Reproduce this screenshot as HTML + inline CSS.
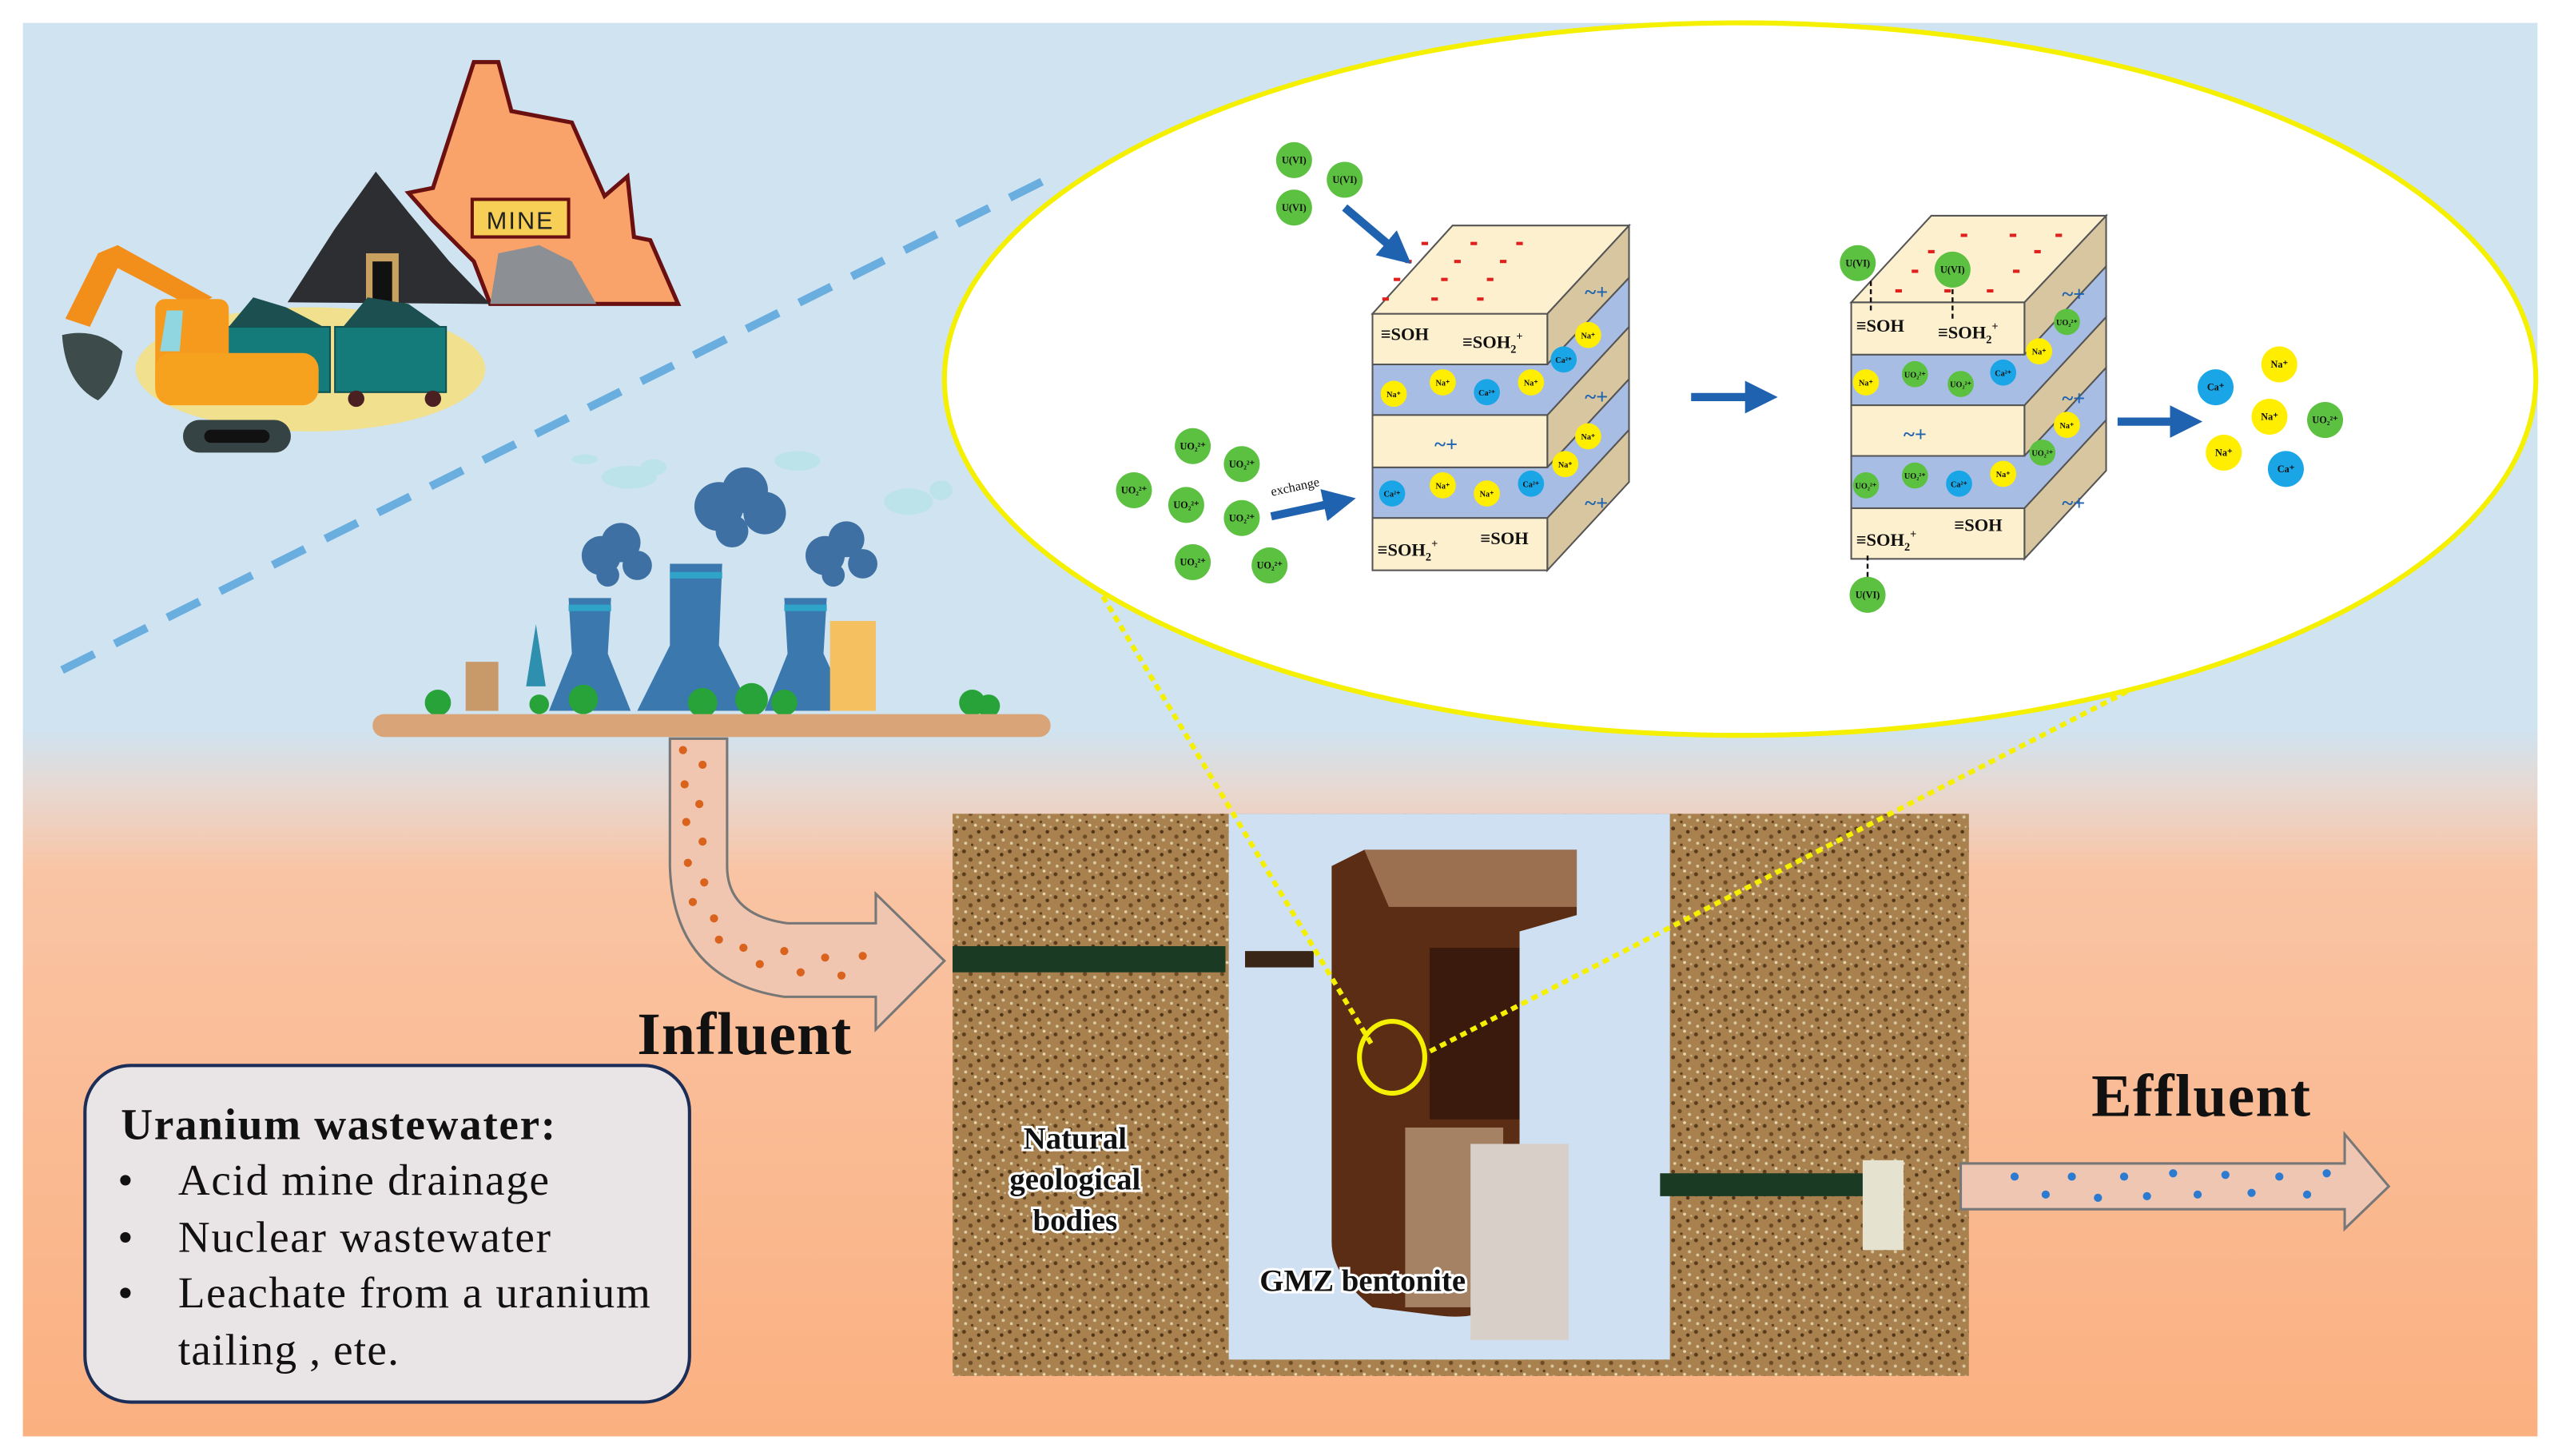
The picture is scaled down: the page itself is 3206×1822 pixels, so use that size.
<!DOCTYPE html>
<html><head><meta charset="utf-8"><style>
html,body{margin:0;padding:0;background:#fff}
svg{display:block}
text{font-family:"Liberation Serif",serif}
.s{font-family:"Liberation Sans",sans-serif;font-weight:bold}
</style></head><body>
<svg width="3206" height="1822" viewBox="0 0 1568 891" preserveAspectRatio="none" xmlns="http://www.w3.org/2000/svg">
<defs>
<linearGradient id="bg" x1="0" y1="0" x2="0" y2="1">
<stop offset="0" stop-color="#cfe3f0"/><stop offset="0.50" stop-color="#cfe3f0"/>
<stop offset="0.54" stop-color="#e6d9d3"/><stop offset="0.60" stop-color="#f9c4a4"/>
<stop offset="1" stop-color="#fbb080"/></linearGradient>
<pattern id="spk" width="14" height="14" patternUnits="userSpaceOnUse">
<rect width="14" height="14" fill="#a8814f"/>
<circle cx="2" cy="3" r="1.2" fill="#5a3c1c"/><circle cx="9" cy="1" r="0.9" fill="#e8d8b0"/>
<circle cx="6" cy="8" r="1.3" fill="#6b4a24"/><circle cx="12" cy="10" r="1" fill="#d8c8a0"/>
<circle cx="3" cy="12" r="0.9" fill="#e0d0a8"/><circle cx="11" cy="5" r="1.1" fill="#4e3418"/>
<circle cx="7" cy="13" r="0.8" fill="#5a3c1c"/><circle cx="13" cy="2" r="0.7" fill="#c8b088"/>
</pattern>
<marker id="ah" markerWidth="4" markerHeight="4" refX="2" refY="2" orient="auto"><path d="M0,0L4,2L0,4z" fill="#1f62b0"/></marker>
</defs>
<rect x="14" y="14" width="1539" height="865" fill="url(#bg)"/>

<line x1="38" y1="410" x2="640" y2="110" stroke="#6aaee0" stroke-width="5" stroke-dasharray="22,14"/>

<!-- mine -->
<ellipse cx="190" cy="226" rx="107" ry="38" fill="#f1e08e"/>
<polygon points="290,38 305,38 313,68 350,75 370,120 384,108 388,145 398,147 415,186 300,186 290,160 265,135 250,118 265,115" fill="#f9a26a" stroke="#6b1010" stroke-width="2.5"/>
<polygon points="300,186 305,155 330,150 350,160 365,186" fill="#8c9095"/>
<polygon points="176,185 205,140 230,105 250,130 275,160 300,186" fill="#2d2e31"/>
<rect x="224" y="155" width="20" height="30" fill="#c8a060"/><rect x="228" y="160" width="12" height="25" fill="#111"/>
<rect x="289" y="122" width="59" height="23" fill="#f7cf56" stroke="#6b1010" stroke-width="2"/>
<text x="318.5" y="140" font-size="15" text-anchor="middle" class="s" style="font-weight:normal;letter-spacing:1px" fill="#222">MINE</text>
<rect x="136" y="200" width="66" height="40" fill="#157a7a" stroke="#0f5050"/>
<rect x="205" y="200" width="68" height="40" fill="#157a7a" stroke="#0f5050"/>
<path d="M140,200 L155,182 L175,188 L198,200z M210,200 L225,182 L250,186 L270,200z" fill="#1c4f50"/>
<circle cx="218" cy="244" r="5" fill="#4a2020"/><circle cx="265" cy="244" r="5" fill="#4a2020"/>
<path d="M40,195 L60,155 L72,150 L130,182 L118,188 L72,164 L55,200z" fill="#f28e1a"/>
<path d="M38,205 Q40,235 60,245 Q72,235 75,215 Q60,200 38,205z" fill="#3d4b4b"/>
<rect x="95" y="183" width="45" height="60" rx="6" fill="#f59a1c"/>
<rect x="95" y="216" width="100" height="32" rx="10" fill="#f7a21f"/>
<polygon points="102,190 112,190 110,215 98,215" fill="#8fd6e0"/>
<rect x="112" y="257" width="66" height="20" rx="10" fill="#364344"/><rect x="125" y="263" width="40" height="8" rx="4" fill="#111"/>

<!-- factory -->
<ellipse cx="385" cy="292" rx="17" ry="7" fill="#bde3ea"/><ellipse cx="400" cy="286" rx="8" ry="5" fill="#bde3ea"/>
<ellipse cx="358" cy="281" rx="8" ry="3" fill="#bde3ea"/><ellipse cx="488" cy="282" rx="14" ry="6" fill="#bde3ea"/>
<ellipse cx="556" cy="307" rx="15" ry="8" fill="#bde3ea"/><ellipse cx="576" cy="300" rx="7" ry="6" fill="#bde3ea"/>
<g fill="#3f70a3">
<circle cx="368" cy="340" r="12"/><circle cx="380" cy="332" r="12"/><circle cx="390" cy="346" r="9"/><circle cx="372" cy="352" r="7"/>
<circle cx="440" cy="310" r="15"/><circle cx="456" cy="300" r="14"/><circle cx="468" cy="314" r="13"/><circle cx="448" cy="325" r="10"/>
<circle cx="505" cy="340" r="12"/><circle cx="518" cy="330" r="11"/><circle cx="528" cy="345" r="9"/><circle cx="510" cy="352" r="7"/>
</g>
<polygon points="348,366 374,366 372,400 386,435 336,435 350,400" fill="#3a78ae"/>
<polygon points="410,345 442,345 440,395 460,435 390,435 410,395" fill="#3a78ae"/>
<polygon points="480,366 506,366 504,400 520,435 468,435 482,400" fill="#3a78ae"/>
<rect x="348" y="370" width="26" height="4" fill="#30a3c8"/><rect x="410" y="350" width="32" height="4" fill="#30a3c8"/><rect x="480" y="370" width="26" height="4" fill="#30a3c8"/>
<rect x="285" y="405" width="20" height="30" fill="#c89a6a"/><rect x="508" y="380" width="28" height="55" fill="#f5c060"/>
<polygon points="328,382 322,420 334,420" fill="#2f8fae"/>
<g fill="#27a33a"><circle cx="268" cy="430" r="8"/><circle cx="357" cy="428" r="9"/><circle cx="430" cy="430" r="9"/><circle cx="460" cy="428" r="10"/><circle cx="595" cy="430" r="8"/><circle cx="605" cy="432" r="7"/><circle cx="480" cy="430" r="8"/><circle cx="330" cy="431" r="6"/></g>
<rect x="228" y="437" width="415" height="14" rx="7" fill="#d9a477"/>

<!-- pipe -->
<path d="M410,452 L410,530 Q412,600 480,610 L536,610 L536,630 L578,588 L536,547 L536,565 L482,565 Q445,560 445,530 L445,452z" fill="#f0c6b0" stroke="#777" stroke-width="1.5"/>
<g fill="#d9621c">
<circle cx="418" cy="459" r="2.5"/><circle cx="430" cy="468" r="2.5"/><circle cx="419" cy="480" r="2.5"/><circle cx="428" cy="492" r="2.5"/><circle cx="420" cy="503" r="2.5"/><circle cx="430" cy="515" r="2.5"/><circle cx="421" cy="528" r="2.5"/><circle cx="431" cy="540" r="2.5"/><circle cx="424" cy="552" r="2.5"/><circle cx="437" cy="562" r="2.5"/><circle cx="440" cy="575" r="2.5"/><circle cx="455" cy="580" r="2.5"/><circle cx="465" cy="590" r="2.5"/><circle cx="480" cy="582" r="2.5"/><circle cx="490" cy="595" r="2.5"/><circle cx="505" cy="586" r="2.5"/><circle cx="515" cy="597" r="2.5"/><circle cx="528" cy="585" r="2.5"/>
</g>
<text x="390" y="645" font-size="37" font-weight="bold" fill="#111" textLength="131">Influent</text>

<!-- wastewater box -->
<rect x="52" y="652" width="370" height="206" rx="28" fill="#e9e4e5" stroke="#1c2e58" stroke-width="2"/>
<text x="74" y="697" font-size="27" font-weight="bold" fill="#111" textLength="266">Uranium wastewater:</text>
<g font-size="27" fill="#111">
<text x="72" y="731">•</text><text x="109" y="731" textLength="227">Acid mine drainage</text>
<text x="72" y="766">•</text><text x="109" y="766" textLength="228">Nuclear wastewater</text>
<text x="72" y="800">•</text><text x="109" y="800" textLength="289">Leachate from a uranium</text>
<text x="109" y="835" textLength="135">tailing , ete.</text>
</g>

<!-- photo -->
<rect x="583" y="498" width="622" height="344" fill="url(#spk)"/>
<rect x="752" y="498" width="270" height="334" fill="#cfe0f3"/>
<path d="M815,530 L835,520 L965,520 L965,560 L930,570 L930,780 Q920,810 880,805 L840,800 Q815,780 815,760z" fill="#5a2d14"/>
<path d="M835,520 L965,520 L965,555 L850,555z" fill="#9a7050"/>
<rect x="875" y="580" width="55" height="105" fill="#3a1a0c"/>
<rect x="860" y="690" width="60" height="110" fill="#a68264"/>
<rect x="900" y="700" width="60" height="120" fill="#d8d0c8"/>
<rect x="583" y="579" width="167" height="16" fill="#1a3a24"/>
<rect x="762" y="582" width="42" height="10" fill="#3a2616"/>
<rect x="1016" y="718" width="135" height="14" fill="#1a3a24"/>
<rect x="1140" y="710" width="25" height="55" fill="#e6e2d0"/>
<g font-size="19" font-weight="bold" fill="#111" text-anchor="middle" stroke="#fff" stroke-width="3" paint-order="stroke">
<text x="658" y="703">Natural</text><text x="658" y="728">geological</text><text x="658" y="753">bodies</text>
<text x="834" y="790">GMZ bentonite</text></g>

<!-- effluent -->
<text x="1280" y="683" font-size="37" font-weight="bold" fill="#111" textLength="134">Effluent</text>
<path d="M1200,712 L1435,712 L1435,694 L1462,726 L1435,752 L1435,740 L1200,740z" fill="#efc6b2" stroke="#777" stroke-width="1.5"/>
<g fill="#2d7bd0"><circle cx="1233" cy="720" r="2.5"/><circle cx="1252" cy="731" r="2.5"/><circle cx="1268" cy="720" r="2.5"/><circle cx="1284" cy="733" r="2.5"/><circle cx="1300" cy="720" r="2.5"/><circle cx="1314" cy="732" r="2.5"/><circle cx="1330" cy="718" r="2.5"/><circle cx="1345" cy="731" r="2.5"/><circle cx="1362" cy="719" r="2.5"/><circle cx="1378" cy="730" r="2.5"/><circle cx="1395" cy="720" r="2.5"/><circle cx="1412" cy="731" r="2.5"/><circle cx="1424" cy="718" r="2.5"/></g>

<line x1="675" y1="365" x2="840" y2="640" stroke="#f5f000" stroke-width="3" stroke-dasharray="4,3"/>
<line x1="1308" y1="420" x2="872" y2="645" stroke="#f5f000" stroke-width="3" stroke-dasharray="4,3"/>
<ellipse cx="852" cy="647" rx="20" ry="22" fill="none" stroke="#f5f000" stroke-width="3"/>

<ellipse cx="1065" cy="232" rx="487" ry="218" fill="#fff" stroke="#f5f000" stroke-width="3"/>
<rect x="850" y="0" width="140" height="14" fill="#fff"/>

<!-- left block -->
<g stroke="#555" stroke-width="1">
<polygon points="947,317 997,263 997,295 947,349" fill="#d8c6a0"/>
<polygon points="947,254 997,200 997,232 947,286" fill="#d8c6a0"/>
<polygon points="947,192 997,138 997,170 947,223" fill="#d8c6a0"/>
<polygon points="840,286 947,286 997,232 997,263 947,317 840,317" fill="#a7bde4"/>
<polygon points="840,223 947,223 997,170 997,200 947,254 840,254" fill="#a7bde4"/>
<rect x="840" y="317" width="107" height="32" fill="#fdf0cf"/>
<rect x="840" y="254" width="107" height="32" fill="#fdf0cf"/>
<rect x="840" y="192" width="107" height="31" fill="#fdf0cf"/>
<polygon points="840,192 889,138 997,138 947,192" fill="#fdf0cf"/>
</g>
<g fill="#e0201c"><rect x="870" y="148" width="4" height="2"/><rect x="900" y="148" width="4" height="2"/><rect x="928" y="148" width="4" height="2"/><rect x="860" y="159" width="4" height="2"/><rect x="890" y="159" width="4" height="2"/><rect x="918" y="159" width="4" height="2"/><rect x="853" y="170" width="4" height="2"/><rect x="882" y="170" width="4" height="2"/><rect x="910" y="170" width="4" height="2"/><rect x="846" y="182" width="4" height="2"/><rect x="876" y="182" width="4" height="2"/><rect x="904" y="182" width="4" height="2"/></g>
<g class="s" font-size="11" fill="#111"><text x="845" y="208">≡SOH</text><text x="895" y="213">≡SOH<tspan font-size="7" dy="3">2</tspan><tspan font-size="7" dy="-8">+</tspan></text>
<text x="843" y="340">≡SOH<tspan font-size="7" dy="3">2</tspan><tspan font-size="7" dy="-8">+</tspan></text><text x="906" y="333">≡SOH</text></g>
<g fill="#1f62b0" class="s" font-size="13"><text x="878" y="276">~+</text><text x="970" y="183">~+</text><text x="970" y="247">~+</text><text x="970" y="312">~+</text></g>

<!-- right block -->
<g stroke="#555" stroke-width="1">
<polygon points="1239,311 1289,257 1289,288 1239,342" fill="#d8c6a0"/>
<polygon points="1239,248 1289,194 1289,225 1239,279" fill="#d8c6a0"/>
<polygon points="1239,185 1289,132 1289,163 1239,217" fill="#d8c6a0"/>
<polygon points="1133,279 1239,279 1289,225 1289,257 1239,311 1133,311" fill="#a7bde4"/>
<polygon points="1133,217 1239,217 1289,163 1289,194 1239,248 1133,248" fill="#a7bde4"/>
<rect x="1133" y="311" width="106" height="31" fill="#fdf0cf"/>
<rect x="1133" y="248" width="106" height="31" fill="#fdf0cf"/>
<rect x="1133" y="185" width="106" height="32" fill="#fdf0cf"/>
<polygon points="1133,185 1182,132 1289,132 1239,185" fill="#fdf0cf"/>
</g>
<g fill="#e0201c"><rect x="1200" y="143" width="4" height="2"/><rect x="1230" y="143" width="4" height="2"/><rect x="1258" y="143" width="4" height="2"/><rect x="1180" y="153" width="4" height="2"/><rect x="1245" y="153" width="4" height="2"/><rect x="1170" y="165" width="4" height="2"/><rect x="1232" y="165" width="4" height="2"/><rect x="1160" y="177" width="4" height="2"/><rect x="1190" y="177" width="4" height="2"/><rect x="1216" y="177" width="4" height="2"/></g>
<g class="s" font-size="11" fill="#111"><text x="1136" y="203">≡SOH</text><text x="1186" y="207">≡SOH<tspan font-size="7" dy="3">2</tspan><tspan font-size="7" dy="-8">+</tspan></text>
<text x="1136" y="334">≡SOH<tspan font-size="7" dy="3">2</tspan><tspan font-size="7" dy="-8">+</tspan></text><text x="1196" y="325">≡SOH</text></g>
<g fill="#1f62b0" class="s" font-size="13"><text x="1165" y="270">~+</text><text x="1262" y="184">~+</text><text x="1262" y="248">~+</text><text x="1262" y="312">~+</text></g>
<g stroke="#111" stroke-width="1.2" stroke-dasharray="3,2"><line x1="1145" y1="172" x2="1145" y2="192"/><line x1="1195" y1="177" x2="1195" y2="195"/><line x1="1143" y1="340" x2="1143" y2="356"/></g>

<g stroke="#1f62b0" stroke-width="5" fill="none" marker-end="url(#ah)">
<line x1="823" y1="127" x2="856" y2="155"/><line x1="778" y1="316" x2="820" y2="307"/>
<line x1="1035" y1="243" x2="1078" y2="243"/><line x1="1296" y1="258" x2="1338" y2="258"/></g>
<text x="778" y="300" font-size="8" fill="#111" transform="rotate(-12 795 300)">exchange</text>

<g class="s" font-size="6" text-anchor="middle" fill="#111">
<g fill="#5cc041"><circle cx="792" cy="98" r="11"/><circle cx="823" cy="110" r="11"/><circle cx="792" cy="127" r="11"/>
<circle cx="730" cy="273" r="11"/><circle cx="760" cy="284" r="11"/><circle cx="694" cy="300" r="11"/><circle cx="726" cy="309" r="11"/><circle cx="760" cy="317" r="11"/><circle cx="730" cy="344" r="11"/><circle cx="777" cy="346" r="11"/>
<circle cx="1137" cy="161" r="11"/><circle cx="1195" cy="165" r="11"/><circle cx="1143" cy="364" r="11"/><circle cx="1423" cy="257" r="11"/>
<circle cx="1265" cy="197" r="8"/><circle cx="1172" cy="229" r="8"/><circle cx="1200" cy="235" r="8"/><circle cx="1250" cy="277" r="8"/><circle cx="1142" cy="297" r="8"/><circle cx="1172" cy="291" r="8"/></g>
<g fill="#ffee00"><circle cx="853" cy="241" r="8"/><circle cx="883" cy="234" r="8"/><circle cx="937" cy="234" r="8"/><circle cx="972" cy="205" r="8"/><circle cx="883" cy="297" r="8"/><circle cx="910" cy="302" r="8"/><circle cx="972" cy="267" r="8"/><circle cx="958" cy="284" r="8"/>
<circle cx="1248" cy="215" r="8"/><circle cx="1142" cy="234" r="8"/><circle cx="1265" cy="260" r="8"/><circle cx="1226" cy="290" r="8"/>
<circle cx="1395" cy="223" r="11"/><circle cx="1389" cy="255" r="11"/><circle cx="1361" cy="277" r="11"/></g>
<g fill="#1aa6e6"><circle cx="910" cy="240" r="8"/><circle cx="957" cy="220" r="8"/><circle cx="852" cy="302" r="8"/><circle cx="937" cy="296" r="8"/><circle cx="1226" cy="228" r="8"/><circle cx="1199" cy="296" r="8"/>
<circle cx="1356" cy="237" r="11"/><circle cx="1399" cy="287" r="11"/></g>
<text x="792" y="100">U(VI)</text><text x="823" y="112">U(VI)</text><text x="792" y="129">U(VI)</text>
<text x="730" y="275">UO₂²⁺</text><text x="760" y="286">UO₂²⁺</text><text x="694" y="302">UO₂²⁺</text><text x="726" y="311">UO₂²⁺</text><text x="760" y="319">UO₂²⁺</text><text x="730" y="346">UO₂²⁺</text><text x="777" y="348">UO₂²⁺</text>
<text x="1137" y="163">U(VI)</text><text x="1195" y="167">U(VI)</text><text x="1143" y="366">U(VI)</text><text x="1423" y="259">UO₂²⁺</text>
<g font-size="5"><text x="853" y="243">Na⁺</text><text x="883" y="236">Na⁺</text><text x="937" y="236">Na⁺</text><text x="972" y="207">Na⁺</text><text x="883" y="299">Na⁺</text><text x="910" y="304">Na⁺</text><text x="972" y="269">Na⁺</text><text x="958" y="286">Na⁺</text>
<text x="910" y="242">Ca²⁺</text><text x="957" y="222">Ca²⁺</text><text x="852" y="304">Ca²⁺</text><text x="937" y="298">Ca²⁺</text>
<text x="1265" y="199">UO₂²⁺</text><text x="1172" y="231">UO₂²⁺</text><text x="1200" y="237">UO₂²⁺</text><text x="1250" y="279">UO₂²⁺</text><text x="1142" y="299">UO₂²⁺</text><text x="1172" y="293">UO₂²⁺</text>
<text x="1248" y="217">Na⁺</text><text x="1142" y="236">Na⁺</text><text x="1265" y="262">Na⁺</text><text x="1226" y="292">Na⁺</text><text x="1226" y="230">Ca²⁺</text><text x="1199" y="298">Ca²⁺</text></g>
<text x="1395" y="225">Na⁺</text><text x="1389" y="257">Na⁺</text><text x="1361" y="279">Na⁺</text><text x="1356" y="239">Ca⁺</text><text x="1399" y="289">Ca⁺</text>
</g>
</svg>
</body></html>
